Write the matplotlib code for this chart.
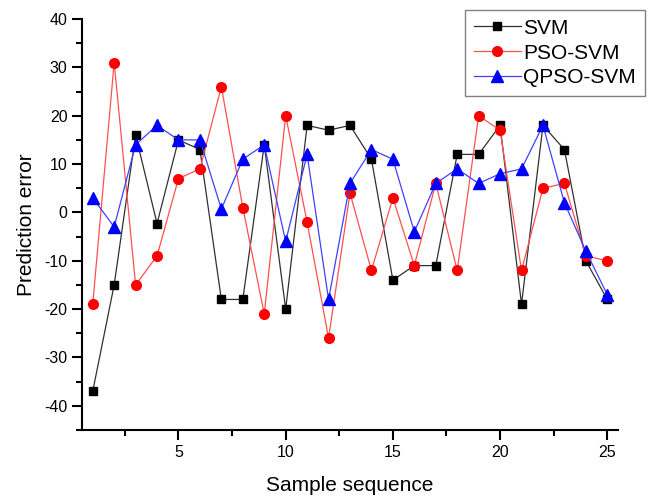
import matplotlib
matplotlib.use("Agg")
import matplotlib.pyplot as plt
from matplotlib.ticker import MultipleLocator

plt.rcParams['font.family'] = ['Liberation Sans', 'DejaVu Sans']
plt.rcParams['axes.unicode_minus'] = False

samples = list(range(1, 26))
svm = [-37, -15, 16, -2.3, 15, 13, -18, -18, 14, -20, 18, 17, 18, 11, -14,
       -11, -11, 12, 12, 18, -19, 18, 13, -10, -18]
pso_svm = [-19, 31, -15, -9, 7, 9, 26, 1, -21, 20, -2, -26, 4, -12, 3,
           -11, 6, -12, 20, 17, -12, 5, 6, -9, -10]
qpso_svm = [3, -3, 14, 18, 15, 15, 0.7, 11, 14, -6, 12, -18, 6, 13, 11,
            -4, 6, 9, 6, 8, 9, 18, 2, -8, -17]
labels = ['SVM', 'PSO-SVM', 'QPSO-SVM']

fig = plt.figure(figsize=(6.5, 4.98), dpi=100)
ax = fig.add_axes([82/650, 1-430/498, (618-82)/650, (430-19)/498])

ax.plot(samples, svm, color='#303030', lw=0.9, marker='s', ms=6,
        mfc='black', mec='black', label=labels[0])
ax.plot(samples, pso_svm, color='#ff5050', lw=0.9, marker='o', ms=7,
        mfc='red', mec='red', label=labels[1])
ax.plot(samples, qpso_svm, color='#4040ff', lw=0.9, marker='^', ms=8,
        mfc='blue', mec='blue', label=labels[2])

ax.set_xlim(0.5, 25.5)
ax.set_ylim(-45, 40)
ax.xaxis.set_major_locator(MultipleLocator(5))
ax.xaxis.set_minor_locator(MultipleLocator(2.5))
ax.yaxis.set_major_locator(MultipleLocator(10))
ax.yaxis.set_minor_locator(MultipleLocator(5))
for s in ['top', 'right']:
    ax.spines[s].set_visible(False)
for s in ['left', 'bottom']:
    ax.spines[s].set_linewidth(1.5)
ax.tick_params(which='major', direction='out', length=7, width=1.5, labelsize=11.5)
ax.tick_params(which='minor', direction='out', length=4, width=1.5)

ax.set_xlabel('Sample sequence', fontsize=15, labelpad=12)
ax.set_ylabel('Prediction error', fontsize=15, labelpad=6)

leg = fig.legend(loc='upper right', bbox_to_anchor=(645/650, 1-10/498),
                 fontsize=15, frameon=True, fancybox=False, handlelength=2.3,
                 handletextpad=0.1, labelspacing=0.28, borderpad=0.42,
                 borderaxespad=0)
leg.get_frame().set_edgecolor('#606060')
leg.get_frame().set_linewidth(1.0)

fig.savefig('out.png', dpi=100)
